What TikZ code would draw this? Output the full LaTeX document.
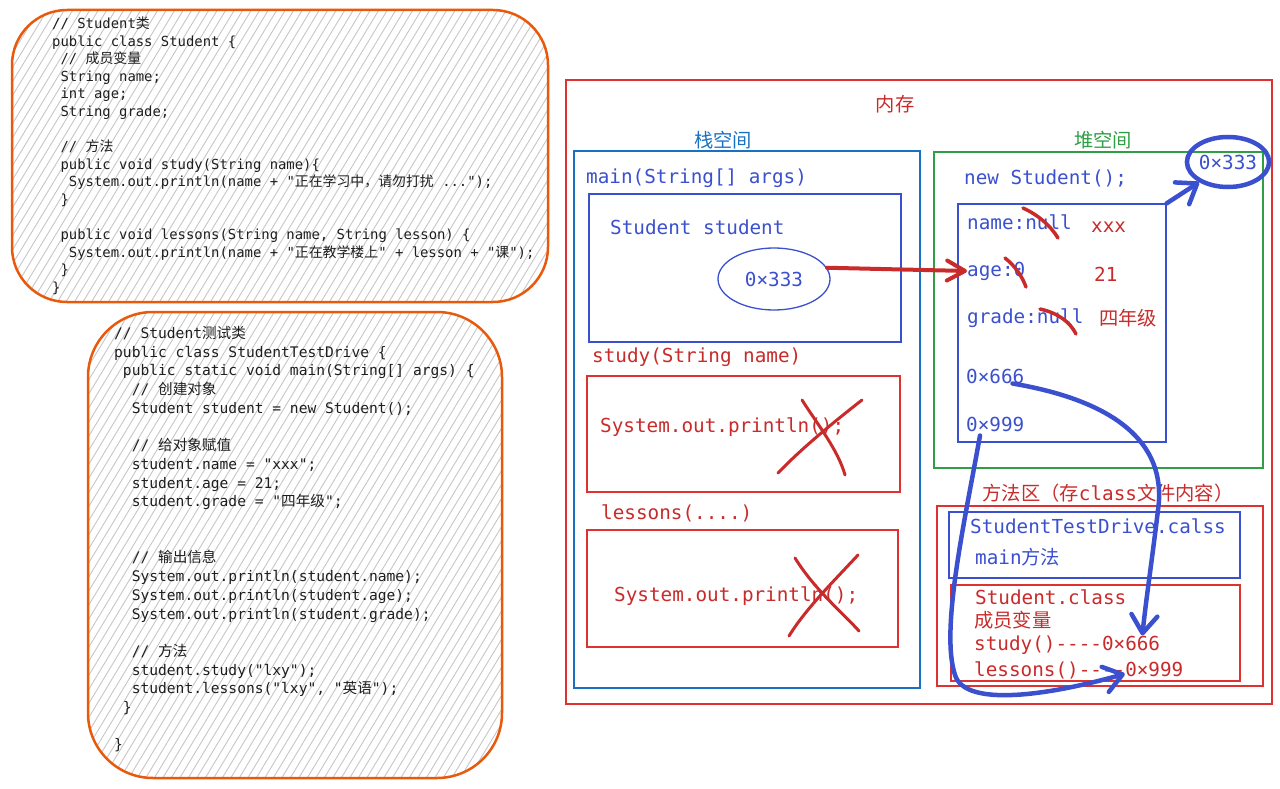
\documentclass[tikz,border=0pt]{standalone}
\usepackage{fontspec}
\setmonofont{DejaVu Sans Mono}
\newfontfamily\cjk{Noto Sans CJK SC}
\usetikzlibrary{arrows.meta,shapes.geometric,calc}
\definecolor{cred}{HTML}{E03131}
\definecolor{tred}{HTML}{C92A2A}
\definecolor{cblue}{HTML}{3B50CE}
\definecolor{sblue}{HTML}{1971C2}
\definecolor{cgreen}{HTML}{2F9E44}
\definecolor{corange}{HTML}{E8590C}
\definecolor{ctext}{HTML}{1E1E1E}
\begin{document}
\begin{tikzpicture}[x=1pt,y=-1pt,
  codeA/.style={anchor=base west,inner sep=0pt,text=ctext,font=\ttfamily\frenchspacing\fontsize{13.9}{16}\selectfont},
  codeB/.style={anchor=base west,inner sep=0pt,text=ctext,font=\ttfamily\frenchspacing\fontsize{14.6}{17}\selectfont},
  lbl/.style={anchor=west,inner sep=0pt,font=\ttfamily\frenchspacing\fontsize{19.3}{22}\selectfont},
  clbl/.style={inner sep=0pt,font=\cjk\fontsize{19.3}{22}\selectfont},
  hatch/.style={draw=gray!45,line width=0.9pt},
  codebox/.style={draw=corange,line width=2.5pt},
  thinbox/.style={draw,line width=1.3pt,inner sep=0pt},
  xstroke/.style={draw=tred,line width=3pt,line cap=round},
  bluearrow/.style={draw=cblue,line width=4.5pt,line cap=round,-{Straight Barb[length=18pt,width=26pt,round]}},
  redarrow/.style={draw=tred,line width=4pt,line cap=round,-{Straight Barb[length=18pt,width=20pt,round]}}
]
\useasboundingbox (0,0) rectangle (1280,789);

% ---------- code box 1 ----------
\begin{scope}
\clip[rounded corners=55pt] (12,10) rectangle (548,302);
\foreach \k in {0,...,92} \draw[hatch] ({-200+8.5*\k},320) -- ++(200,-330);
\end{scope}
\draw[codebox,rounded corners=55pt] (12,10) rectangle (548,302);
\foreach \ln [count=\i] in {
{// Student{\cjk 类}},
{public class Student \{},
{\ // {\cjk 成员变量}},
{\ String name;},
{\ int age;},
{\ String grade;},
{},
{\ // {\cjk 方法}},
{\ public void study(String name)\{},
{\ \ System.out.println(name + "{\cjk 正在学习中，请勿打扰} {...}");},
{\ \}},
{},
{\ public void lessons(String name, String lesson) \{},
{\ \ System.out.println(name + "{\cjk 正在教学楼上}" + lesson + "{\cjk 课}");},
{\ \}},
{\}}
}{\node[codeA] (ca\i) at (52,{28.5+17.6*(\i-1)}) {\ln};}

% ---------- code box 2 ----------
\begin{scope}
\clip[rounded corners=65pt] (88,312) rectangle (502,778);
\foreach \k in {0,...,86} \draw[hatch] ({-210+8.5*\k},790) -- ++(290,-480);
\end{scope}
\draw[codebox,rounded corners=65pt] (88,312) rectangle (502,778);
\foreach \ln [count=\i] in {
{// Student{\cjk 测试类}},
{public class StudentTestDrive \{},
{\ public static void main(String[] args) \{},
{\ \ // {\cjk 创建对象}},
{\ \ Student student = new Student();},
{},
{\ \ // {\cjk 给对象赋值}},
{\ \ student.name = "xxx";},
{\ \ student.age = 21;},
{\ \ student.grade = "{\cjk 四年级}";},
{},
{},
{\ \ // {\cjk 输出信息}},
{\ \ System.out.println(student.name);},
{\ \ System.out.println(student.age);},
{\ \ System.out.println(student.grade);},
{},
{\ \ // {\cjk 方法}},
{\ \ student.study("lxy");},
{\ \ student.lessons("lxy", "{\cjk 英语}");},
{\ \}},
{},
{\}}
}{\node[codeB] (cb\i) at (114,{338.5+18.7*(\i-1)}) {\ln};}

% ---------- memory ----------
\node[thinbox,draw=cred,minimum width=706pt,minimum height=624pt] (mem) at (919,392) {};
\node[clbl,text=tred] (memlbl) at (895,104) {内存};

% stack
\node[clbl,text=sblue] (stacklbl) at (723,140) {栈空间};
\node[thinbox,draw=sblue,minimum width=346pt,minimum height=537pt] (stack) at (747,419.5) {};
\node[lbl,text=cblue] (mainlbl) at (586,178) {main(String[] args)};
\node[thinbox,draw=cblue,minimum width=312pt,minimum height=148pt] (mainbox) at (745,268) {};
\node[lbl,text=cblue] (stuvar) at (610,227) {Student student};
\node[draw=cblue,line width=1.3pt,ellipse,minimum width=112pt,minimum height=62pt,inner sep=0pt,text=cblue,font=\ttfamily\fontsize{19.3}{22}\selectfont] (ptr) at (774,279) {0×333};

\node[lbl,text=tred] (studylbl) at (592,357) {study(String name)};
\node[thinbox,draw=cred,minimum width=313pt,minimum height=116pt] (studybox) at (743.5,434) {};
\node[lbl,text=tred] (studypr) at (600,427) {System.out.println();};
\node[lbl,text=tred] (lessonslbl) at (601,513) {lessons(....)};
\node[thinbox,draw=cred,minimum width=311pt,minimum height=117pt] (lessonsbox) at (742.5,588.5) {};
\node[lbl,text=tred] (lessonspr) at (614,596) {System.out.println();};

% X marks
\draw[xstroke] (802,400) .. controls (818,425) and (838,450) .. (845,475);
\draw[xstroke] (862,400) .. controls (830,425) and (800,450) .. (778,473);
\draw[xstroke] (795,558) .. controls (815,590) and (840,610) .. (859,631);
\draw[xstroke] (858,555) .. controls (830,585) and (805,610) .. (789,636);

% heap
\node[clbl,text=cgreen] (heaplbl) at (1103,140) {堆空间};
\node[thinbox,draw=cgreen,minimum width=329pt,minimum height=316pt] (heap) at (1098.5,310) {};
\node[lbl,text=cblue] (newlbl) at (964,179) {new Student();};
\node[thinbox,draw=cblue,minimum width=208pt,minimum height=238pt] (heapin) at (1062,323) {};
\node[lbl,text=cblue] (namel) at (967,222) {name:null};
\node[lbl,text=tred] (xxx) at (1091,227) {xxx};
\node[lbl,text=cblue] (agel) at (967,271) {age:0};
\node[lbl,text=tred] (v21) at (1094,274) {21};
\node[lbl,text=cblue] (gradel) at (967,318) {grade:null};
\node[clbl,anchor=west,text=tred] (g4) at (1099,318) {四年级};
\node[lbl,text=cblue] (n666) at (966,376) {0×666};
\node[lbl,text=cblue] (n999) at (966,424) {0×999};

% strike marks
\draw[xstroke,line width=3.5pt] (1023,208) .. controls (1038,215) and (1050,225) .. (1058,238);
\draw[xstroke,line width=3.5pt] (1005,258) .. controls (1015,266) and (1022,276) .. (1026,287);
\draw[xstroke,line width=3.5pt] (1040,309) .. controls (1058,313) and (1070,322) .. (1076,334);

% address ellipse
\node[draw=cblue,line width=4.5pt,ellipse,minimum width=82pt,minimum height=50pt,inner sep=0pt,text=cblue,font=\ttfamily\fontsize{19.3}{22}\selectfont] (addr) at (1228,162) {0×333};

% method area
\node[clbl,text=tred] (malbl) at (1108,493) {方法区（存{\ttfamily class}文件内容）};
\node[thinbox,draw=cred,minimum width=326pt,minimum height=180pt] (ma) at (1100,596) {};
\node[thinbox,draw=cblue,minimum width=291pt,minimum height=66pt] (tdbox) at (1094.5,545) {};
\node[lbl,text=cblue] (tdlbl) at (970,526) {StudentTestDrive.calss};
\node[lbl,text=cblue] (mainm) at (975,557) {main{\cjk 方法}};
\node[thinbox,draw=cred,minimum width=289pt,minimum height=96pt] (scbox) at (1095.5,633) {};
\node[lbl,text=tred] (sclbl) at (975,597) {Student.class};
\node[clbl,anchor=west,text=tred] (scmem) at (974,620) {成员变量};
\node[lbl,text=tred] (s666) at (974,645) {study()----0×666};
\node[lbl,text=tred] (l999) at (974,670) {lessons()----0×999};

% connectors
\draw[redarrow] (ptr.12) -- (agel.west);
\draw[bluearrow] (heapin.north east) -- (addr.215);
\draw[bluearrow] ($(n666.south east)+(-12,0)$) .. controls (1110,400) and (1168,440) .. (1158,510) .. controls (1152,560) and (1146,600) .. ($(s666.north east)+(-18,0)$);
\draw[bluearrow] ($(n999.south west)+(14,4)$) .. controls (965,520) and (940,630) .. (955,675) .. controls (965,708) and (1050,695) .. ($(l999.south)+(46,-5)$);
\end{tikzpicture}
\end{document}
